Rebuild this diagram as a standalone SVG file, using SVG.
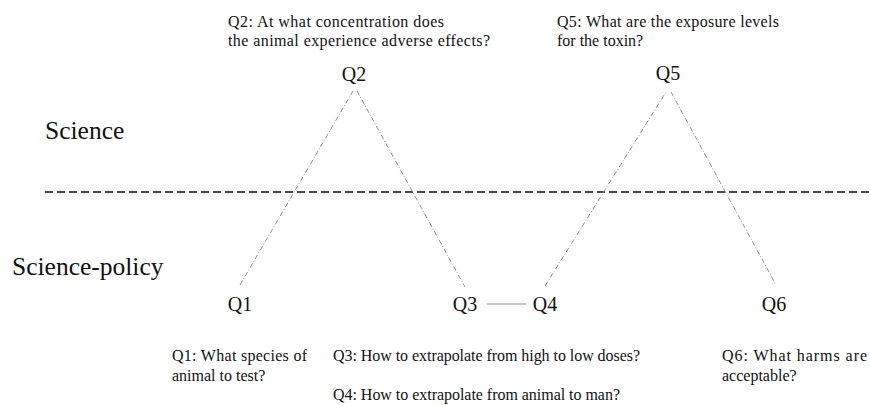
<svg xmlns="http://www.w3.org/2000/svg" width="870" height="406" viewBox="0 0 870 406">
<style>
text { font-family: 'Liberation Serif', 'Times New Roman', 'DejaVu Serif', serif; fill: #111; }
.q { font-size: 16px; }
.node { font-size: 20px; text-anchor: middle; }
.zone { font-size: 25.5px; }
.conn { stroke: #8f8f8f; stroke-width: 1; fill: none; stroke-dasharray: 5 2 1 2; }
.divider { stroke: #111; stroke-width: 1.6; stroke-dasharray: 8 4; }
</style>
<rect width="870" height="406" fill="#fff"/>
<g id="zones">
<text class="zone" x="45" y="139">Science</text>
<text class="zone" x="12" y="275">Science-policy</text>
<line class="divider" x1="45" y1="192" x2="870" y2="192"/>
</g>
<g id="connectors">
<line class="conn" x1="240" y1="285" x2="353" y2="91"/>
<line class="conn" x1="357" y1="91" x2="465" y2="287"/>
<line x1="487" y1="304" x2="526" y2="304" stroke="#8f8f8f" stroke-width="1"/>
<line class="conn" x1="545" y1="286" x2="666" y2="92"/>
<line class="conn" x1="671" y1="92" x2="775" y2="283"/>
</g>
<g id="Q1"><text class="node" x="240" y="311">Q1</text>
<text class="q" x="172" y="361" textLength="135">Q1: What species of</text>
<text class="q" x="172" y="381">animal to test?</text></g>
<g id="Q2"><text class="node" x="354" y="81">Q2</text>
<text class="q" x="228" y="27" textLength="216">Q2: At what concentration does</text>
<text class="q" x="228" y="46" textLength="262">the animal experience adverse effects?</text></g>
<g id="Q3"><text class="node" x="465" y="311">Q3</text>
<text class="q" x="333" y="361" textLength="307">Q3: How to extrapolate from high to low doses?</text></g>
<g id="Q4"><text class="node" x="545" y="311">Q4</text>
<text class="q" x="333" y="400" textLength="287">Q4: How to extrapolate from animal to man?</text></g>
<g id="Q5"><text class="node" x="668" y="80">Q5</text>
<text class="q" x="557" y="27" textLength="222">Q5: What are the exposure levels</text>
<text class="q" x="557" y="46">for the toxin?</text></g>
<g id="Q6"><text class="node" x="774" y="311">Q6</text>
<text class="q" x="722" y="361" textLength="145">Q6: What harms are</text>
<text class="q" x="722" y="381">acceptable?</text></g>
</svg>
